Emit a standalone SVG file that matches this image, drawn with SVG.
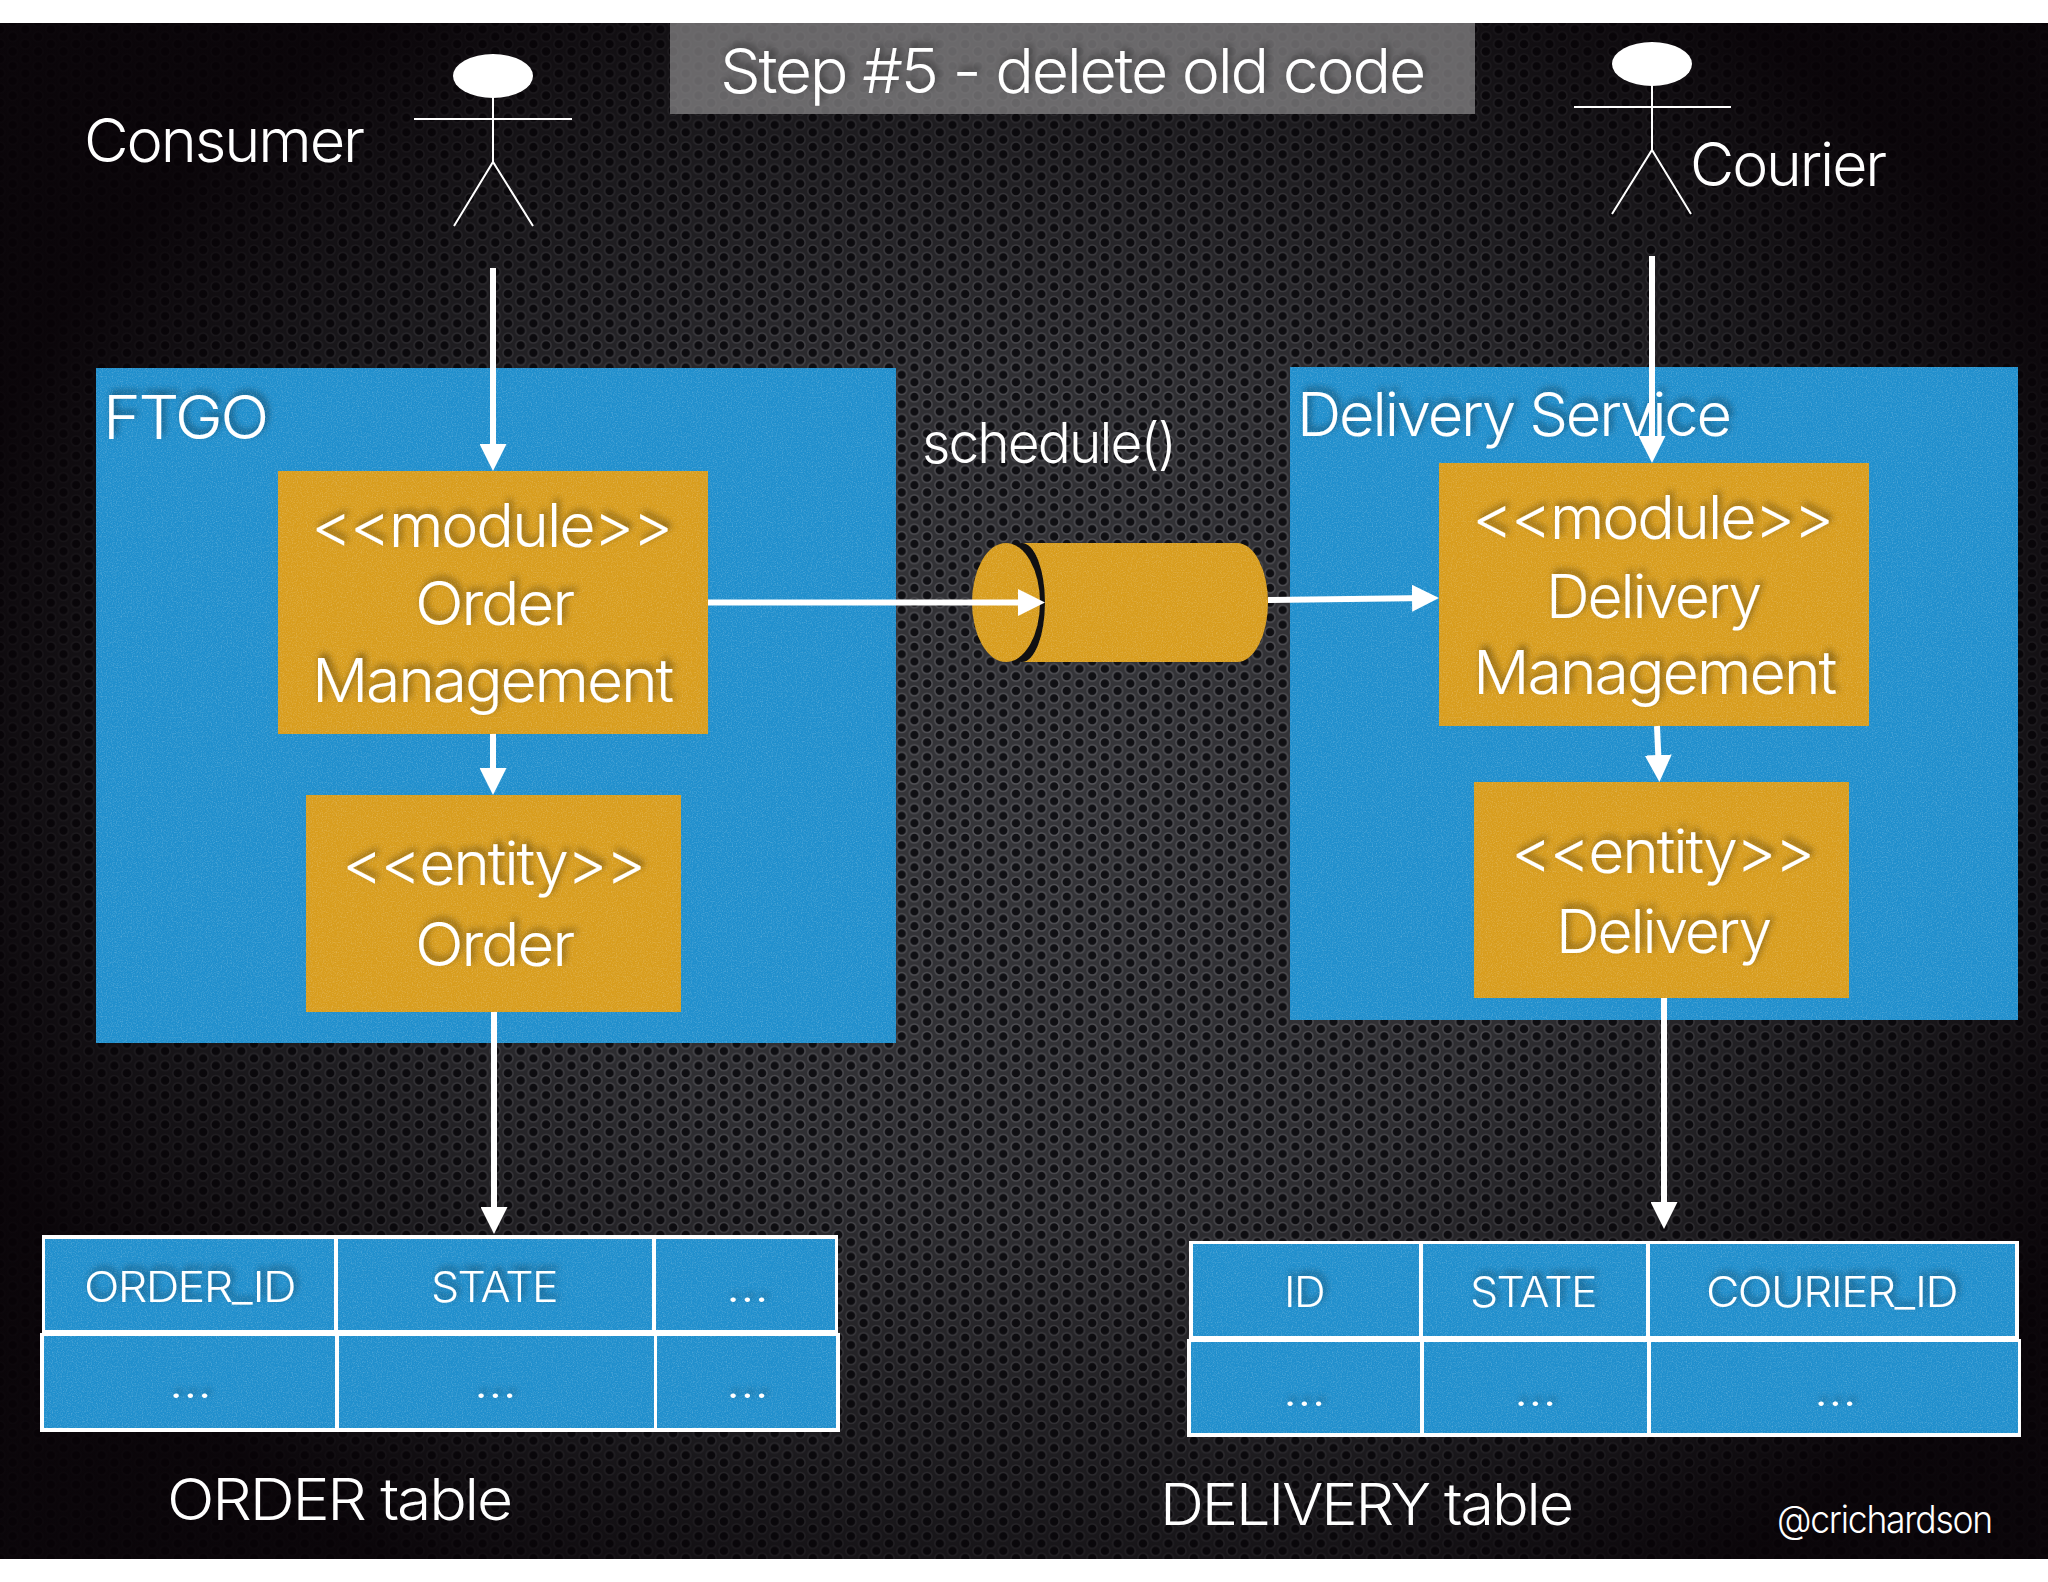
<svg xmlns="http://www.w3.org/2000/svg" width="2048" height="1582" viewBox="0 0 2048 1582">
<defs>
<pattern id="mesh" width="25.4" height="14.7" patternUnits="userSpaceOnUse">
<rect width="25.4" height="14.7" fill="#36363a"/>
<g fill="#101014" stroke="#55555a" stroke-width="1.5">
<circle cx="0" cy="0" r="5"/><circle cx="25.4" cy="0" r="5"/><circle cx="0" cy="14.7" r="5"/><circle cx="25.4" cy="14.7" r="5"/><circle cx="12.7" cy="7.35" r="5"/>
</g>
</pattern>
<radialGradient id="vig" gradientUnits="userSpaceOnUse" cx="1060" cy="790" r="1" gradientTransform="translate(1060 790) scale(1150 950) translate(-1060 -790)">
<stop offset="0" stop-color="#050205" stop-opacity="0"/>
<stop offset=".45" stop-color="#050205" stop-opacity=".15"/>
<stop offset=".75" stop-color="#050205" stop-opacity=".55"/>
<stop offset="1" stop-color="#070206" stop-opacity=".93"/>
</radialGradient>
<filter id="grain" x="0" y="0" width="100%" height="100%" color-interpolation-filters="sRGB">
<feTurbulence type="fractalNoise" baseFrequency=".8" numOctaves="2" seed="4" result="n"/>
<feColorMatrix in="n" type="matrix" values="0 0 0 0 1  0 0 0 0 1  0 0 0 0 1  0.5 0 0 0 -0.22" result="a"/>
<feComposite in="a" in2="SourceGraphic" operator="in" result="b"/>
<feMerge><feMergeNode in="SourceGraphic"/><feMergeNode in="b"/></feMerge>
</filter>
<filter id="sh" x="-10%" y="-30%" width="120%" height="160%">
<feDropShadow dx="3" dy="-4" stdDeviation="3.5" flood-color="#000" flood-opacity=".45"/>
</filter>
<marker id="ah" markerUnits="userSpaceOnUse" markerWidth="27" markerHeight="27" refX="17" refY="13.5" orient="auto">
<path d="M0 0L27 13.5L0 27Z" fill="#fff"/>
</marker>
</defs>
<style>
.t{font-family:"Inter","Liberation Sans",sans-serif;font-weight:300;fill:#fff;letter-spacing:-.035em}
.s{filter:url(#sh)}
.blue{fill:#208fcd;filter:url(#grain)}
.gold{fill:#d89d1d;filter:url(#grain)}
.c{stroke:#fff;stroke-width:6;fill:none;marker-end:url(#ah)}
.a{stroke:#fff;stroke-width:2;fill:none}
</style>
<rect width="2048" height="1582" fill="#fff"/>
<g id="background">
<rect y="23" width="2048" height="1536" fill="url(#mesh)"/>
<rect y="23" width="2048" height="1536" fill="url(#vig)"/>
</g>
<g id="title">
<rect x="670" y="23" width="805" height="91" fill="#8a898a" fill-opacity=".72"/>
<text class="t s" x="720" y="93" font-size="62" textLength="704" lengthAdjust="spacingAndGlyphs">Step #5 - delete old code</text>
</g>
<g id="consumer">
<ellipse cx="493" cy="76" rx="40" ry="22" fill="#fff"/>
<path class="a" d="M493 98V162M414 119H572M454 226L493 162L533 226"/>
<text class="t" x="84" y="162" font-size="60" textLength="279" lengthAdjust="spacingAndGlyphs">Consumer</text>
</g>
<g id="courier">
<ellipse cx="1652" cy="64" rx="40" ry="22" fill="#fff"/>
<path class="a" d="M1652 86V150M1574 107H1731M1612 214L1652 150L1691 214"/>
<text class="t" x="1690" y="186" font-size="60" textLength="195" lengthAdjust="spacingAndGlyphs">Courier</text>
</g>
<g id="ftgo">
<rect class="blue" x="96" y="368" width="800" height="675"/>
<text class="t s" x="103" y="439" font-size="60" textLength="164" lengthAdjust="spacingAndGlyphs">FTGO</text>
</g>
<g id="delivery-service">
<rect class="blue" x="1290" y="367" width="728" height="653"/>
<text class="t s" x="1297" y="436" font-size="60" textLength="433" lengthAdjust="spacingAndGlyphs">Delivery Service</text>
</g>
<g id="order-management">
<rect class="gold" x="278" y="471" width="430" height="263"/>
<g class="s">
<text class="t" x="311" y="547" font-size="60" textLength="360" lengthAdjust="spacingAndGlyphs">&lt;&lt;module&gt;&gt;</text>
<text class="t" x="415" y="625" font-size="60" textLength="158" lengthAdjust="spacingAndGlyphs">Order</text>
<text class="t" x="312" y="702" font-size="60" textLength="360" lengthAdjust="spacingAndGlyphs">Management</text>
</g>
</g>
<g id="order-entity">
<rect class="gold" x="306" y="795" width="375" height="217"/>
<g class="s">
<text class="t" x="342" y="885" font-size="60" textLength="302" lengthAdjust="spacingAndGlyphs">&lt;&lt;entity&gt;&gt;</text>
<text class="t" x="415" y="966" font-size="60" textLength="158" lengthAdjust="spacingAndGlyphs">Order</text>
</g>
</g>
<g id="delivery-management">
<rect class="gold" x="1439" y="463" width="430" height="263"/>
<g class="s">
<text class="t" x="1472" y="539" font-size="60" textLength="360" lengthAdjust="spacingAndGlyphs">&lt;&lt;module&gt;&gt;</text>
<text class="t" x="1546" y="618" font-size="60" textLength="214" lengthAdjust="spacingAndGlyphs">Delivery</text>
<text class="t" x="1473" y="694" font-size="60" textLength="362" lengthAdjust="spacingAndGlyphs">Management</text>
</g>
</g>
<g id="delivery-entity">
<rect class="gold" x="1474" y="782" width="375" height="216"/>
<g class="s">
<text class="t" x="1511" y="873" font-size="60" textLength="302" lengthAdjust="spacingAndGlyphs">&lt;&lt;entity&gt;&gt;</text>
<text class="t" x="1556" y="953" font-size="60" textLength="214" lengthAdjust="spacingAndGlyphs">Delivery</text>
</g>
</g>
<g id="channel">
<ellipse cx="1022" cy="602.5" rx="23" ry="59.5" fill="#101012"/>
<path class="gold" d="M1022 543H1237A31 59.5 0 0 1 1237 662H1022A23 59.5 0 0 0 1022 543Z"/>
<ellipse class="gold" cx="1006" cy="602.5" rx="34" ry="59.5"/>
</g>
<text class="t" x="922" y="463" font-size="56" textLength="253" lengthAdjust="spacingAndGlyphs">schedule()</text>
<g id="order-table">
<rect x="42" y="1235" width="796" height="98" fill="#fff"/>
<rect x="40" y="1333" width="800" height="99" fill="#fff"/>
<rect class="blue" x="45" y="1239" width="289" height="91"/>
<rect class="blue" x="338" y="1239" width="314" height="91"/>
<rect class="blue" x="656" y="1239" width="179" height="91"/>
<rect class="blue" x="44" y="1336" width="291" height="92"/>
<rect class="blue" x="339" y="1336" width="315" height="92"/>
<rect class="blue" x="657" y="1336" width="179" height="92"/>
<g class="s">
<text class="t" x="84" y="1302" font-size="42" textLength="211" lengthAdjust="spacingAndGlyphs">ORDER_ID</text>
<text class="t" x="431" y="1302" font-size="42" textLength="126" lengthAdjust="spacingAndGlyphs">STATE</text>
<text class="t" x="726" y="1302" font-size="42" textLength="41" lengthAdjust="spacingAndGlyphs">…</text>
<text class="t" x="169" y="1398" font-size="42" textLength="41" lengthAdjust="spacingAndGlyphs">…</text>
<text class="t" x="474" y="1398" font-size="42" textLength="41" lengthAdjust="spacingAndGlyphs">…</text>
<text class="t" x="726" y="1398" font-size="42" textLength="41" lengthAdjust="spacingAndGlyphs">…</text>
</g>
<text class="t" x="167" y="1520" font-size="58" textLength="344" lengthAdjust="spacingAndGlyphs">ORDER table</text>
</g>
<g id="delivery-table">
<rect x="1189" y="1241" width="830" height="98" fill="#fff"/>
<rect x="1187" y="1339" width="834" height="98" fill="#fff"/>
<rect class="blue" x="1193" y="1244" width="226" height="92"/>
<rect class="blue" x="1423" y="1244" width="223" height="92"/>
<rect class="blue" x="1650" y="1244" width="365" height="92"/>
<rect class="blue" x="1191" y="1342" width="229" height="91"/>
<rect class="blue" x="1424" y="1342" width="223" height="91"/>
<rect class="blue" x="1651" y="1342" width="367" height="91"/>
<g class="s">
<text class="t" x="1284" y="1307" font-size="42" textLength="40" lengthAdjust="spacingAndGlyphs">ID</text>
<text class="t" x="1470" y="1307" font-size="42" textLength="126" lengthAdjust="spacingAndGlyphs">STATE</text>
<text class="t" x="1706" y="1307" font-size="42" textLength="251" lengthAdjust="spacingAndGlyphs">COURIER_ID</text>
<text class="t" x="1283" y="1406" font-size="42" textLength="41" lengthAdjust="spacingAndGlyphs">…</text>
<text class="t" x="1514" y="1406" font-size="42" textLength="41" lengthAdjust="spacingAndGlyphs">…</text>
<text class="t" x="1814" y="1406" font-size="42" textLength="41" lengthAdjust="spacingAndGlyphs">…</text>
</g>
<text class="t" x="1160" y="1525" font-size="58" textLength="412" lengthAdjust="spacingAndGlyphs">DELIVERY table</text>
</g>
<text class="t" x="1777" y="1533" font-size="38" textLength="215" lengthAdjust="spacingAndGlyphs">@crichardson</text>
<g id="connectors">
<line class="c" x1="493" y1="268" x2="493" y2="461"/>
<line class="c" x1="1652" y1="256" x2="1652" y2="453"/>
<line class="c" x1="708" y1="602.5" x2="1035" y2="602.5"/>
<line class="c" x1="1268" y1="600" x2="1429" y2="598"/>
<line class="c" x1="493" y1="734" x2="493" y2="785"/>
<line class="c" x1="1657" y1="726" x2="1659" y2="772"/>
<line class="c" x1="494" y1="1012" x2="494" y2="1224"/>
<line class="c" x1="1664" y1="998" x2="1664" y2="1219"/>
</g>
</svg>
